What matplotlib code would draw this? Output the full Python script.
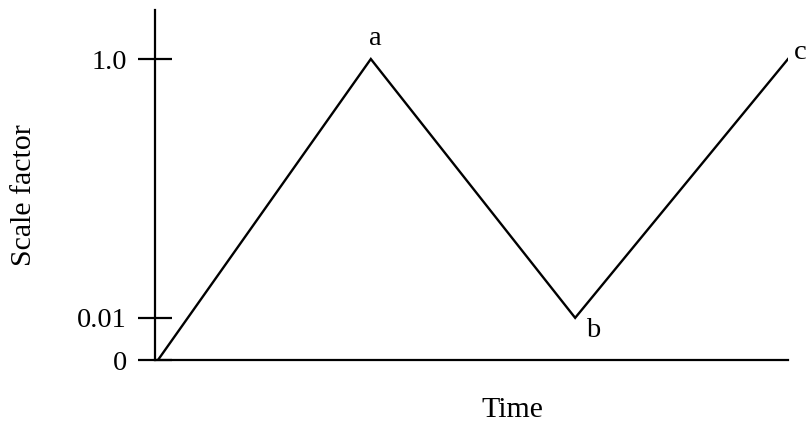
import numpy as np
import matplotlib
matplotlib.use("Agg")
import matplotlib.pyplot as plt

time_vals = [0.0, 1.0, 1.96, 2.96]
scale_vals = [0.0, 1.0, 0.01, 1.0]
point_names = ["", "a", "b", "c"]
ytick_vals = [0.0, 0.01, 1.0]
ytick_labels = ["0", "0.01", "1.0"]

plt.rcParams["font.family"] = ["Liberation Serif", "DejaVu Serif"]


# || Piecewise-linear (schematic) axis: 0.01 gets stretched out
def fwd(v):
    v = np.asarray(v, dtype=float)
    return np.where(v < 0.01, v * 14.0, 0.14 + (v - 0.01) * (0.86 / 0.99))


def inv(u):
    u = np.asarray(u, dtype=float)
    return np.where(u < 0.14, u / 14.0, 0.01 + (u - 0.14) * (0.99 / 0.86))


fig = plt.figure(figsize=(8.08, 4.26), dpi=100)
ax = fig.add_axes([155 / 808, 1 - 360 / 426, (788 - 155) / 808, 350 / 426])
ax.set_yscale("function", functions=(fwd, inv))

ax.plot(time_vals, scale_vals, color="black", lw=1.7, solid_joinstyle="miter")

# point labels a, b, c
offsets = {"a": (3, 15), "b": (13, -9), "c": (9, 5)}
for t, s, name in zip(time_vals, scale_vals, point_names):
    if name:
        ax.annotate(name, (t, s), xytext=offsets[name], textcoords="offset points",
                    ha="center", va="center", fontsize=20.5)

ax.set_xlim(-0.014, 2.96)
ax.set_ylim(0, float(inv(350 / 301)))

for side in ["top", "right"]:
    ax.spines[side].set_visible(False)
for side in ["left", "bottom"]:
    ax.spines[side].set_linewidth(1.6)

ax.set_xticks([])
ax.set_yticks(ytick_vals)
ax.set_yticklabels(ytick_labels)
ax.yaxis.set_minor_locator(plt.NullLocator())
ax.tick_params(axis="y", direction="inout", length=24.5, width=1.6, pad=8, labelsize=20.5)

fig.text(24 / 808, 1 - 195 / 426, "Scale factor", rotation=90, ha="center", va="center", fontsize=21.5)
fig.text(512 / 808, 1 - 410 / 426, "Time", ha="center", va="center", fontsize=21.5)

fig.savefig("out.png", dpi=100, facecolor="white")
